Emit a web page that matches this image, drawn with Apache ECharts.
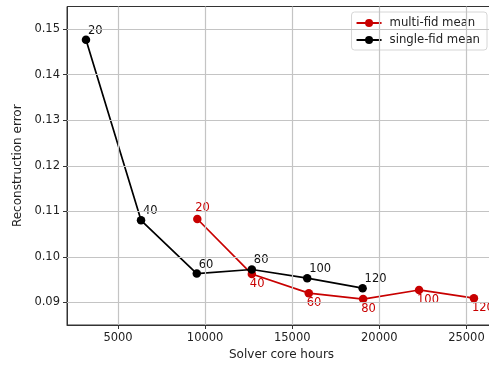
<!DOCTYPE html>
<html>
<head>
<meta charset="utf-8">
<script src="https://cdn.jsdelivr.net/npm/echarts@6/dist/echarts.min.js"></script>
<style>
  html, body { margin: 0; padding: 0; background: #fff; overflow: hidden; }
  #chart { width: 500px; height: 370px; }
</style>
</head>
<body>
<div id="chart"></div>
<script>
// 求解器核心小时 vs 重建误差
const fidLabels = ['20', '40', '60', '80', '100', '120']
const singleHours = [3160, 6320, 9520, 12680, 15860, 19040]
const singleErr = [0.1477, 0.1080, 0.0963, 0.0972, 0.0953, 0.0931]
const multiHours = [9550, 12680, 15950, 19070, 22280, 25430]
const multiErr = [0.1083, 0.0962, 0.0920, 0.0907, 0.0927, 0.0909]
const xTicks = [5000, 10000, 15000, 20000, 25000]
const yTicks = [0.09, 0.10, 0.11, 0.12, 0.13, 0.14, 0.15]

const RED = '#c80000'
const FONT = 'DejaVu Sans'

const xMin = 2070, xMax = 26700
const yMin = 0.085, yMax = 0.155
const pxPerX = 87.1 / 5000
const gridLeft = 67, gridTop = 6.5
const gridWidth = (xMax - xMin) * pxPerX

const singleData = singleHours.map((h, i) => [h, singleErr[i]])
const multiData = multiHours.map((h, i) => {
  const item = { value: [h, multiErr[i]] }
  item.label = i === 0 ? { offset: [-2, -11] } : { offset: [-2, 10] }
  return item
})

const gridLines = [
  ...xTicks.map(v => ({ xAxis: v })),
  ...yTicks.map(v => ({ yAxis: v }))
]

const chart = echarts.init(document.getElementById('chart'))
chart.setOption({
  animation: false,
  textStyle: { fontFamily: FONT },
  grid: {
    left: gridLeft,
    top: gridTop,
    width: gridWidth,
    height: 318.5,
    show: true,
    borderColor: '#333',
    borderWidth: 1
  },
  legend: {
    orient: 'vertical',
    right: 13,
    top: 12,
    itemWidth: 25,
    itemHeight: 10,
    itemGap: 5,
    padding: [5, 7, 4, 4],
    backgroundColor: 'rgba(255,255,255,0.85)',
    borderColor: '#d6d6d6',
    borderWidth: 1,
    borderRadius: 3,
    textStyle: { fontFamily: FONT, fontSize: 11.7, color: '#222', padding: [0, 0, 0, 3] },
    data: ['multi-fid mean', 'single-fid mean']
  },
  xAxis: {
    type: 'value',
    min: xMin,
    max: xMax,
    name: 'Solver core hours',
    nameLocation: 'middle',
    nameGap: 24,
    nameTextStyle: { fontFamily: FONT, fontSize: 12, color: '#222' },
    axisLine: { show: true, onZero: false, lineStyle: { color: '#333' } },
    axisTick: { show: true, length: 4, customValues: xTicks, lineStyle: { color: '#333' } },
    axisLabel: {
      customValues: xTicks,
      fontSize: 11.5,
      color: '#222',
      margin: 7,
      formatter: v => String(v)
    },
    splitLine: { show: false }
  },
  yAxis: {
    type: 'value',
    min: yMin,
    max: yMax,
    name: 'Reconstruction error',
    nameLocation: 'middle',
    nameRotate: 90,
    nameGap: 41,
    nameTextStyle: { fontFamily: FONT, fontSize: 12, color: '#222' },
    axisLine: { show: true, onZero: false, lineStyle: { color: '#333' } },
    axisTick: { show: true, length: 4, customValues: yTicks, lineStyle: { color: '#333' } },
    axisLabel: {
      customValues: yTicks,
      fontSize: 11.5,
      color: '#222',
      margin: 7,
      formatter: v => v.toFixed(2)
    },
    splitLine: { show: false }
  },
  series: [
    {
      name: 'grid',
      type: 'line',
      data: [],
      z: 1,
      silent: true,
      markLine: {
        silent: true,
        symbol: ['none', 'none'],
        label: { show: false },
        lineStyle: { color: '#c4c4c4', width: 1.2, type: 'solid' },
        data: gridLines
      }
    },
    {
      name: 'multi-fid mean',
      type: 'line',
      data: multiData,
      z: 3,
      color: RED,
      symbol: 'circle',
      symbolSize: 8.5,
      lineStyle: { width: 1.7, color: RED },
      itemStyle: { color: RED },
      label: {
        show: true,
        position: 'inside',
        align: 'left',
        verticalAlign: 'middle',
        color: RED,
        fontSize: 11.5,
        formatter: p => fidLabels[p.dataIndex]
      }
    },
    {
      name: 'single-fid mean',
      type: 'line',
      data: singleData,
      z: 4,
      color: '#000',
      symbol: 'circle',
      symbolSize: 8.5,
      lineStyle: { width: 1.7, color: '#000' },
      itemStyle: { color: '#000' },
      label: {
        show: true,
        position: 'inside',
        align: 'left',
        verticalAlign: 'middle',
        offset: [2, -9],
        color: '#111',
        fontSize: 11.5,
        formatter: p => fidLabels[p.dataIndex]
      }
    }
  ]
})
</script>
</body>
</html>
